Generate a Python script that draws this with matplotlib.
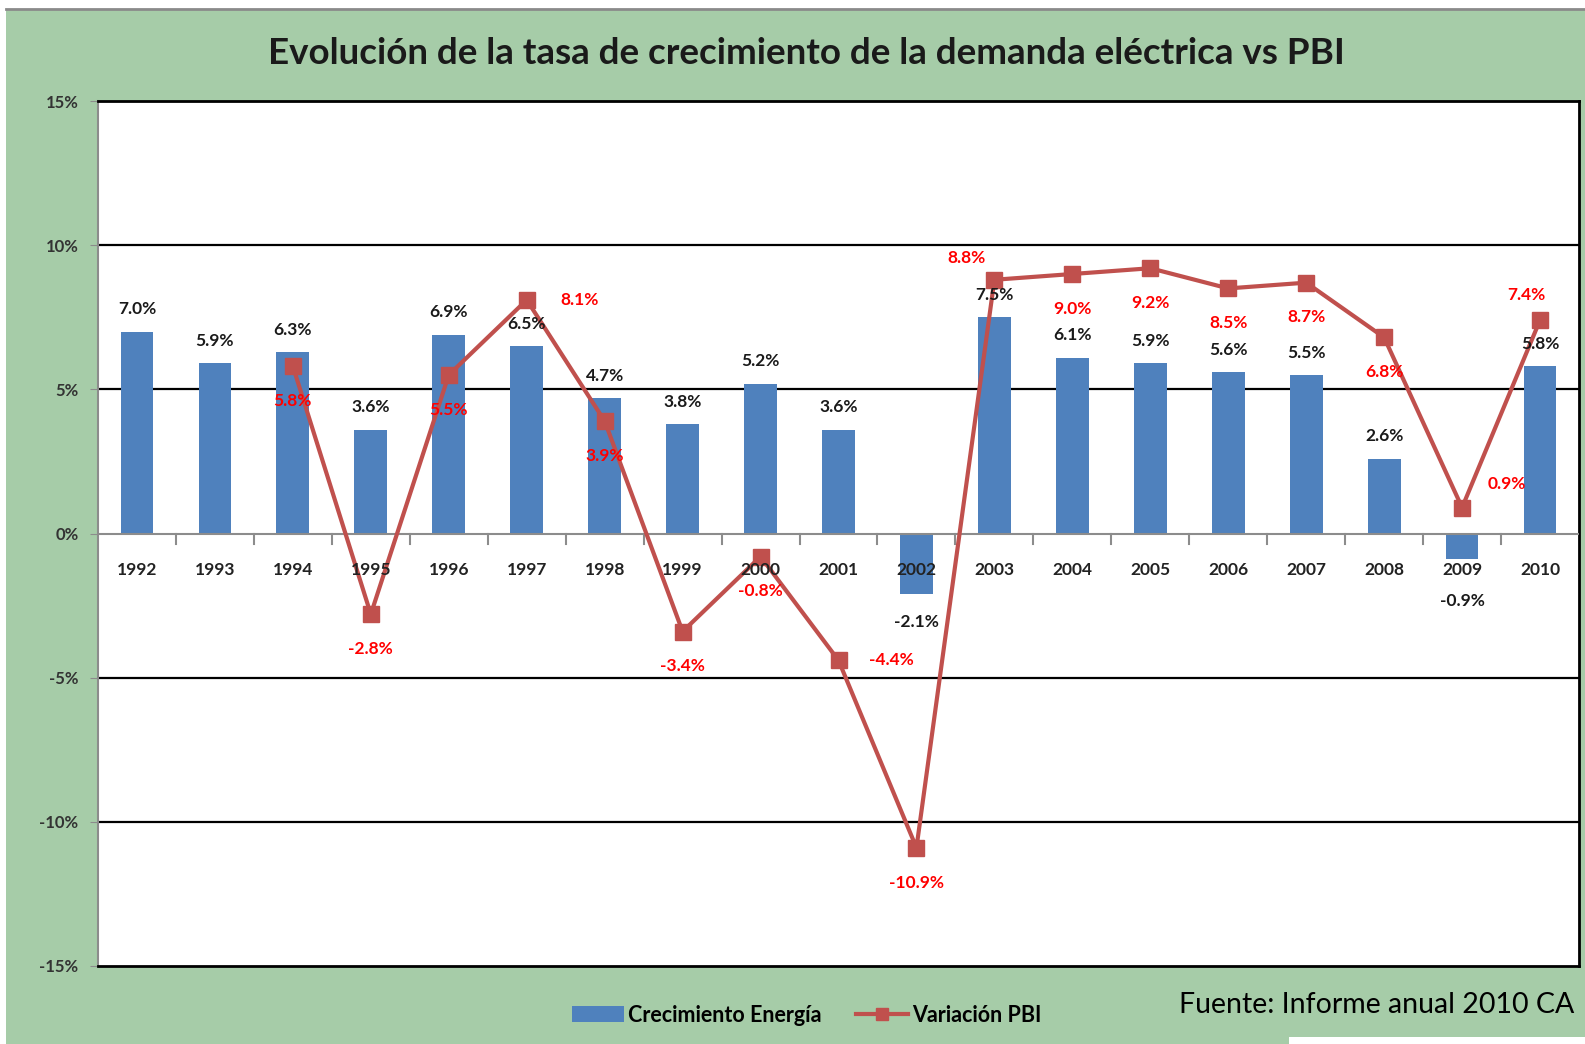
import matplotlib
matplotlib.use("Agg")
from matplotlib import pyplot as plt
from matplotlib.patches import Rectangle, Patch
from matplotlib.lines import Line2D
import numpy as np

plt.rcParams['font.family'] = ['Lato', 'DejaVu Sans']

anios = ["1992", "1993", "1994", "1995", "1996", "1997", "1998", "1999", "2000", "2001",
         "2002", "2003", "2004", "2005", "2006", "2007", "2008", "2009", "2010"]
crecimiento_energia = [7.0, 5.9, 6.3, 3.6, 6.9, 6.5, 4.7, 3.8, 5.2, 3.6,
                       -2.1, 7.5, 6.1, 5.9, 5.6, 5.5, 2.6, -0.9, 5.8]
variacion_pbi = [None, None, 5.8, -2.8, 5.5, 8.1, 3.9, -3.4, -0.8, -4.4,
                 -10.9, 8.8, 9.0, 9.2, 8.5, 8.7, 6.8, 0.9, 7.4]
# donde va la etiqueta roja de cada punto
pos_etiqueta_pbi = [None, None, "abajo", "abajo", "abajo", "derecha", "abajo", "abajo", "abajo", "derecha",
                    "abajo", "arriba_izq", "abajo", "abajo", "abajo", "abajo", "abajo", "derecha_arriba", "arriba"]
ticks_y = [-15, -10, -5, 0, 5, 10, 15]

verde = "#a6cca8"
azul = "#4f81bd"
rojo = "#c0504d"

fig = plt.figure(figsize=(15.85, 10.44), dpi=100)
fig.patch.set_facecolor("white")
fig.patches.append(Rectangle((6 / 1585, 0), 1, 1 - 10 / 1044, transform=fig.transFigure,
                             facecolor=verde, edgecolor="none", zorder=-2))
fig.patches.append(Rectangle((1289 / 1585, 0), 1, 7 / 1044, transform=fig.transFigure,
                             facecolor="white", edgecolor="none", zorder=-1))
fig.add_artist(Line2D([6 / 1585, 1], [1 - 9 / 1044, 1 - 9 / 1044], color="#8a8a8a", lw=2))

ax = fig.add_axes([98 / 1585, 1 - 966 / 1044, (1579 - 98) / 1585, (966 - 101) / 1044])
ax.set_facecolor("white")

x = np.arange(len(anios))
ax.bar(x, crecimiento_energia, width=0.42, color=azul, zorder=2)

xs = [i for i, v in zip(x, variacion_pbi) if v is not None]
ys = [v for v in variacion_pbi if v is not None]
ax.plot(xs, ys, color=rojo, lw=3, marker="s", markersize=11, zorder=4)

ax.set_xlim(-0.5, len(anios) - 0.5)
ax.set_ylim(-15, 15)

for y in [-10, -5, 5, 10]:
    ax.axhline(y, color="black", lw=1.6, zorder=1)
ax.axhline(0, color="#8c8c8c", lw=1.5, zorder=3)

ax.set_yticks(ticks_y)
ax.set_yticklabels([f"{t}%" for t in ticks_y], fontsize=12, fontweight="bold", color="#333333")
ax.tick_params(axis="y", length=6, color="#8c8c8c", pad=8)
ax.set_xticks([])

# marcas del eje x sobre la linea del 0
for b in np.arange(0.5, len(anios) - 0.5, 1):
    ax.plot([b, b], [0, -0.35], color="#8c8c8c", lw=1.5, zorder=3)

for i, a in enumerate(anios):
    ax.annotate(a, (i, 0), xytext=(0, -26), textcoords="offset points",
                ha="center", va="center", fontsize=12.5, fontweight="bold", color="#222222", zorder=6)

for i, v in enumerate(crecimiento_energia):
    off = 16
    if v < 0:
        off = -20 if i == 10 else -30
    ax.annotate(f"{v:.1f}%", (i, v), xytext=(0, off), textcoords="offset points",
                ha="center", va="center", fontsize=12.5, fontweight="bold", color="#1a1a1a", zorder=6)

offsets = {"abajo": (0, -25), "derecha": (38, 0), "arriba_izq": (-20, 16),
           "derecha_arriba": (32, 17), "arriba": (-10, 18)}
for i, v in enumerate(variacion_pbi):
    if v is None:
        continue
    dx, dy = offsets[pos_etiqueta_pbi[i]]
    ax.annotate(f"{v:.1f}%", (i, v), xytext=(dx, dy), textcoords="offset points",
                ha="center", va="center", fontsize=12.5, fontweight="bold", color="#ff0000", zorder=7)

for s in ["top", "right", "bottom"]:
    ax.spines[s].set_color("black")
    ax.spines[s].set_linewidth(2)
ax.spines["left"].set_color("#8c8c8c")
ax.spines["left"].set_linewidth(1.5)

fig.text(0.509, 1 - 54 / 1044, "Evolución de la tasa de crecimiento de la demanda eléctrica vs PBI",
         ha="center", va="center", fontsize=26.5, fontweight="bold", color="#1a1a1a")

handles = [Patch(facecolor=azul, edgecolor="none"),
           Line2D([], [], color=rojo, lw=3, marker="s", markersize=9)]
fig.legend(handles, ["Crecimiento Energía", "Variación PBI"], loc="center",
           bbox_to_anchor=(807 / 1585, 1 - 1015 / 1044), ncol=2, frameon=False,
           handlelength=2.4, handletextpad=0.2, columnspacing=1.6, borderpad=0,
           prop={"weight": "bold", "size": 15.5})

fig.text(1179 / 1585, 1 - 1005 / 1044, "Fuente: Informe anual 2010 CA", ha="left", va="center",
         fontsize=20.5, color="black")

fig.savefig("out.png", dpi=100, facecolor=fig.get_facecolor())
